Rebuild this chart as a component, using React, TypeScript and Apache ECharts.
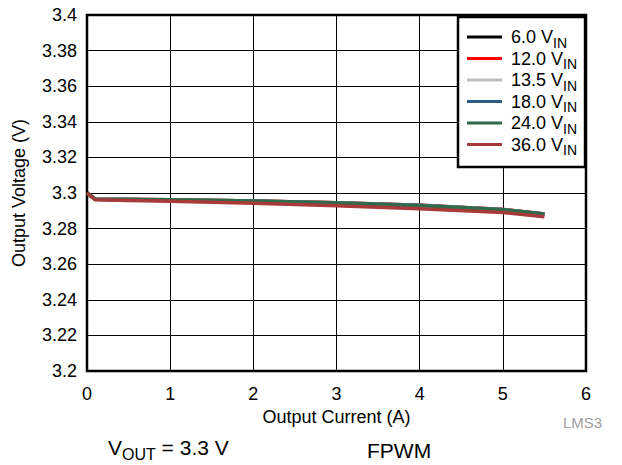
import React, { useEffect, useRef } from "react";
import * as echarts from "echarts";

const currents = [0, 0.1, 0.5, 1, 2, 3, 4, 5, 5.5];
const v6 = [3.3, 3.2965, 3.2964, 3.2962, 3.2955, 3.2945, 3.2931, 3.2908, 3.2882];
const v12 = [3.3, 3.2965, 3.2964, 3.2962, 3.2955, 3.2945, 3.2931, 3.2908, 3.2882];
const v13_5 = [3.3, 3.2965, 3.2964, 3.2962, 3.2955, 3.2945, 3.2931, 3.2908, 3.2881];
const v18 = [3.3, 3.2964, 3.2963, 3.2961, 3.2954, 3.2944, 3.293, 3.2906, 3.288];
const v24 = [3.3, 3.2965, 3.2964, 3.2962, 3.2955, 3.2944, 3.293, 3.2906, 3.288];
const v36 = [3.3, 3.2962, 3.2958, 3.2953, 3.2942, 3.2929, 3.2911, 3.2891, 3.2866];
const seriesNames = ["6.0", "12.0", "13.5", "18.0", "24.0", "36.0"];
const seriesColors = ["#000000", "#ff0000", "#bdbdbd", "#2d5c82", "#2e6b4a", "#a83a3a"];
const xTicks = [0, 1, 2, 3, 4, 5, 6];

export default function App() {
  const ref = useRef<HTMLDivElement>(null);
  useEffect(() => {
    const chart = echarts.init(ref.current!, null, { renderer: "svg" });
    const data = [v6, v12, v13_5, v18, v24, v36];
    const font = "Liberation Sans, Arial, sans-serif";
    chart.setOption({
      animation: false,
      backgroundColor: "#ffffff",
      textStyle: { fontFamily: font },
      grid: {
        left: 87,
        right: 36,
        top: 15,
        bottom: 94,
        show: true,
        borderColor: "#000",
        borderWidth: 2.5,
        backgroundColor: "transparent",
      },
      xAxis: {
        type: "value",
        min: xTicks[0],
        max: xTicks[xTicks.length - 1],
        interval: 1,
        name: "Output Current (A)",
        nameLocation: "middle",
        nameGap: 30,
        nameTextStyle: { fontSize: 18, color: "#000", fontFamily: font },
        axisLine: { show: false },
        axisTick: { show: false },
        axisLabel: { fontSize: 18, color: "#000", margin: 14, fontFamily: font },
        splitLine: { show: true, lineStyle: { color: "#000", width: 1 } },
      },
      yAxis: {
        type: "value",
        min: 3.2,
        max: 3.4,
        interval: 0.02,
        name: "Output Voltage (V)",
        nameLocation: "middle",
        nameGap: 59,
        nameTextStyle: { fontSize: 18, color: "#000", fontFamily: font },
        axisLine: { show: false },
        axisTick: { show: false },
        axisLabel: {
          fontSize: 18,
          color: "#000",
          margin: 10,
          fontFamily: font,
          formatter: (v: number) => String(parseFloat(v.toFixed(2))),
        },
        splitLine: { show: true, lineStyle: { color: "#000", width: 1 } },
      },
      legend: {
        orient: "vertical",
        left: 458,
        top: 17,
        padding: [11, 8, 10, 9],
        itemGap: 0,
        itemWidth: 35,
        itemHeight: 3,
        icon: "rect",
        borderColor: "#000",
        borderWidth: 2.5,
        backgroundColor: "#fff",
        data: seriesNames.map((n) => n + " V"),
        formatter: (name: string) => "{a|" + name + "}{b|IN}",
        textStyle: {
          fontFamily: font,
          color: "#000",
          rich: {
            a: { fontSize: 18, lineHeight: 21, color: "#000", fontFamily: font, padding: [0, 0, 0, 4] },
            b: {
              fontSize: 14,
              lineHeight: 21,
              color: "#000",
              fontFamily: font,
              verticalAlign: "bottom",
              padding: [0, 0, -2, 0],
            },
          },
        },
      },
      series: seriesNames.map((n, i) => ({
        name: n + " V",
        type: "line",
        data: currents.map((c, j) => [c, data[i][j]]),
        symbol: "none",
        color: seriesColors[i],
        lineStyle: { width: 3.5, color: seriesColors[i] },
      })),
      graphic: [
        {
          type: "text",
          left: 563,
          top: 415,
          style: { text: "LMS3", fontSize: 15, fill: "#a0a0a0", fontFamily: font },
        },
        {
          type: "text",
          left: 108,
          top: 437,
          style: {
            text: "{a|V}{b|OUT}{a| = 3.3 V}",
            fontFamily: font,
            rich: {
              a: { fontSize: 21, fill: "#000", fontFamily: font, lineHeight: 24 },
              b: {
                fontSize: 16,
                fill: "#000",
                fontFamily: font,
                lineHeight: 22,
                verticalAlign: "bottom",
                padding: [0, 0, -3, 0],
              },
            },
          },
        },
        {
          type: "text",
          left: 367,
          top: 440,
          style: { text: "FPWM", fontSize: 21, fill: "#000", fontFamily: font },
        },
      ],
    });
    return () => chart.dispose();
  }, []);
  return <div ref={ref} style={{ width: 622, height: 465, position: "absolute", left: 0, top: 0 }} />;
}
